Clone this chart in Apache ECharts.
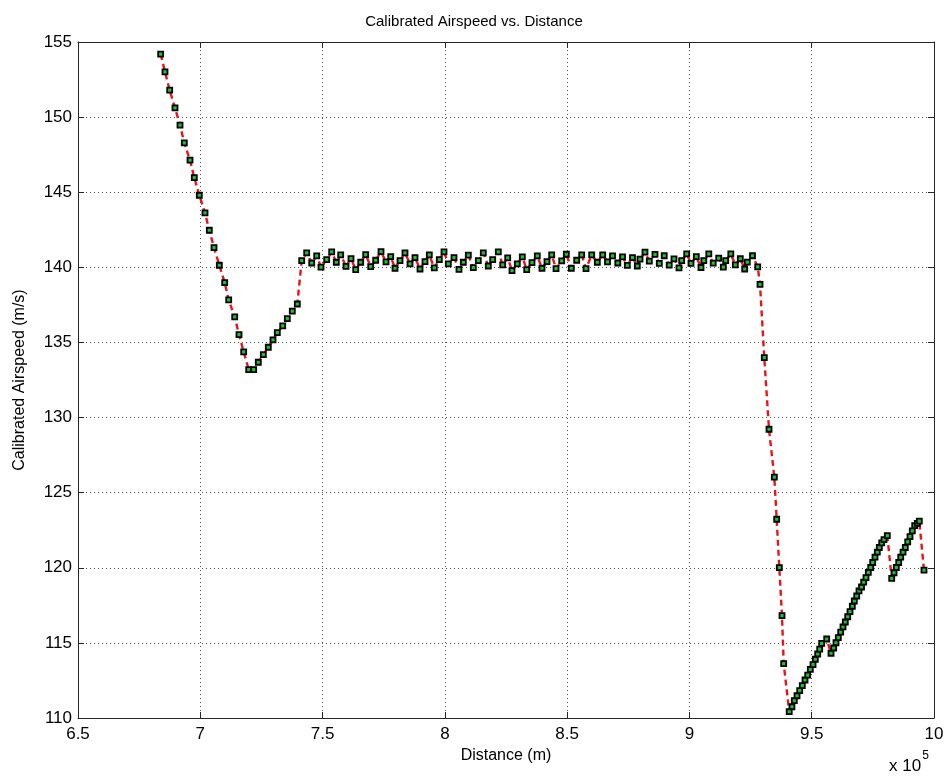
<!DOCTYPE html>
<html>
<head>
<meta charset="utf-8">
<script src="https://cdn.jsdelivr.net/npm/echarts@6/dist/echarts.min.js"></script>
<style>
html,body{margin:0;padding:0;background:#fff;}
#chart{width:948px;height:777px;}
</style>
</head>
<body>
<div id="chart"></div>
<script>
// Distance (m)
var distance = [
683800,685570,687490,689660,691710,693460,695800,697550,699600,701930,
703690,705610,707780,709980,711620,714070,715830,717750,719800,721840,
723720,725770,727810,729730,731490,733700,735580,737620,739670,
741470,743510,745560,747600,749360,751690,753730,755610,757410,759580,
761620,763550,765590,767630,769680,771720,773890,775940,777860,779620,
781660,783700,785750,787790,789840,791880,793640,795680,797730,799650,
801410,803740,805780,807540,809590,811630,813680,815720,817760,819560,
821850,823650,825700,827450,829620,831670,833470,835630,837800,839720,
841770,843680,845450,847780,849660,851700,853910,855950,857710,860040,
862330,864540,866500,868550,870710,872640,874600,876720,878690,879790,
881830,883590,885920,887680,889690,891730,893690,895740,896840,898890,
900640,902810,904730,905880,907920,909720,911970,913850,914830,916920,
918760,920800,922600,923660,925790,927920,
928860,930610,932540,934710,935680,936750,937850,938540,
940800,941920,942880,943990,945090,946150,947260,948360,949420,950530,
951470,952450,953270,954080,956130,957890,958990,959930,960870,961850,
962790,963730,964720,965660,966600,967410,968400,969340,970360,971260,
972200,973140,974120,974940,975880,976820,977640,978620,979560,980910,
982710,983650,984590,985570,986390,987330,988270,989250,990190,991130,
992110,993170,993990,995910
];
// Calibrated airspeed (m/s)
var airspeed = [
154.19,153.01,151.79,150.61,149.46,148.28,147.13,145.97,144.80,143.62,
142.47,141.31,140.14,138.98,137.83,136.70,135.52,134.37,133.19,133.19,
133.68,134.19,134.68,135.17,135.65,136.10,136.58,137.08,137.56,
140.45,140.96,140.29,140.76,140.01,140.51,141.03,140.34,140.83,140.07,
140.58,139.85,140.34,140.85,140.05,140.47,141.05,140.36,140.71,139.94,
140.45,140.96,140.23,140.65,139.89,140.38,140.83,139.96,140.51,141.03,
140.23,140.65,139.87,140.34,140.81,139.98,140.45,140.96,140.09,140.51,
141.03,140.16,140.63,139.78,140.23,140.69,139.85,140.31,140.76,139.94,
140.38,140.83,139.91,140.43,140.87,139.94,140.47,140.83,139.91,140.83,
140.34,140.83,140.36,140.76,140.29,140.69,140.13,140.65,140.09,140.54,
141.01,140.41,140.86,140.26,140.77,140.15,140.56,139.97,140.45,140.89,
140.26,140.71,139.99,140.45,140.89,140.28,140.61,140.01,140.45,140.89,
140.16,140.57,139.89,140.35,140.77,140.03,
138.87,133.99,129.22,126.03,123.23,120.01,116.81,113.62,
110.42,110.75,111.15,111.48,111.82,112.15,112.53,112.86,113.24,113.55,
113.91,114.26,114.59,114.97,115.26,114.31,114.66,115.01,115.35,115.71,
116.06,116.39,116.74,117.08,117.44,117.79,118.12,118.46,118.72,119.05,
119.35,119.69,120.02,120.35,120.71,121.04,121.35,121.66,121.88,122.14,
119.29,119.67,120.02,120.35,120.71,121.04,121.35,121.73,122.08,122.46,
122.80,122.95,123.10,119.84
];
var xTicks = {min: 650000, max: 1000000, interval: 50000};
var yTicks = {min: 110, max: 155, interval: 5};

var points = distance.map(function (d, i) { return [d, airspeed[i]]; });

var chart = echarts.init(document.getElementById('chart'), null, {renderer: 'canvas'});
var fontFam = 'Liberation Sans, Arial, sans-serif';
var axisLineStyle = {color: '#262626', width: 1};
var gridDots = {show: true, lineStyle: {color: '#555', width: 1, type: [1, 3]}};

chart.setOption({
  animation: false,
  backgroundColor: '#fff',
  title: {
    text: 'Calibrated Airspeed vs. Distance',
    left: 'center',
    top: 9,
    textStyle: {fontFamily: fontFam, fontSize: 15, fontWeight: 'normal', color: '#000'}
  },
  grid: {left: 78, right: 14, top: 42, bottom: 59, containLabel: false},
  xAxis: [{
    type: 'value',
    min: xTicks.min, max: xTicks.max, interval: xTicks.interval,
    name: 'Distance (m)',
    nameLocation: 'middle',
    nameGap: 35,
    nameTextStyle: {fontFamily: fontFam, fontSize: 16, color: '#000', verticalAlign: 'middle'},
    axisLine: {show: true, onZero: false, lineStyle: axisLineStyle},
    axisTick: {show: true, inside: true, length: 6, lineStyle: axisLineStyle},
    axisLabel: {
      fontFamily: fontFam, fontSize: 17, color: '#000', margin: 8,
      formatter: function (v) { return String(Math.round(v / 1e4) / 10); }
    },
    splitLine: gridDots
  }, {
    type: 'value', position: 'top',
    min: xTicks.min, max: xTicks.max, interval: xTicks.interval,
    axisLine: {show: true, onZero: false, lineStyle: axisLineStyle},
    axisTick: {show: true, inside: true, length: 6, lineStyle: axisLineStyle},
    axisLabel: {show: false},
    splitLine: {show: false}
  }],
  yAxis: [{
    type: 'value',
    min: yTicks.min, max: yTicks.max, interval: yTicks.interval,
    name: 'Calibrated Airspeed (m/s)',
    nameLocation: 'middle',
    nameGap: 58,
    nameTextStyle: {fontFamily: fontFam, fontSize: 16, color: '#000', verticalAlign: 'middle'},
    axisLine: {show: true, onZero: false, lineStyle: axisLineStyle},
    axisTick: {show: true, inside: true, length: 6, lineStyle: axisLineStyle},
    axisLabel: {fontFamily: fontFam, fontSize: 17, color: '#000', margin: 6},
    splitLine: gridDots
  }, {
    type: 'value', position: 'right',
    min: yTicks.min, max: yTicks.max, interval: yTicks.interval,
    axisLine: {show: true, onZero: false, lineStyle: axisLineStyle},
    axisTick: {show: true, inside: true, length: 6, lineStyle: axisLineStyle},
    axisLabel: {show: false},
    splitLine: {show: false}
  }],
  graphic: [{
    type: 'text',
    left: 889, top: 750,
    style: {
      text: '{b|x 10}{s|5}',
      rich: {
        b: {fontFamily: fontFam, fontSize: 17, fill: '#000', verticalAlign: 'bottom', lineHeight: 23},
        s: {fontFamily: fontFam, fontSize: 12, fill: '#000', verticalAlign: 'top', padding: [0, 0, 13, 1]}
      }
    }
  }],
  series: [{
    type: 'line',
    xAxisIndex: 0, yAxisIndex: 0,
    data: points,
    showSymbol: true,
    symbol: 'rect',
    symbolSize: 5,
    lineStyle: {color: '#e8141c', width: 2.4, type: [6, 4]},
    itemStyle: {color: '#22c030', borderColor: '#000', borderWidth: 1.8},
    emphasis: {disabled: true}
  }]
});
</script>
</body>
</html>
